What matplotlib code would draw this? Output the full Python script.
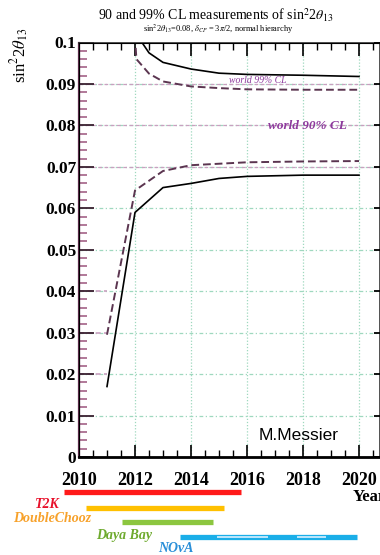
import matplotlib.pyplot as plt
from matplotlib.ticker import MultipleLocator, FuncFormatter

plt.rcParams['font.family'] = ['Liberation Serif', 'DejaVu Serif']
plt.rcParams['mathtext.fontset'] = 'stix'

# 99% CL band edges
yr_99_lo = [2011.0, 2012.0, 2013.0, 2014.0, 2015.0, 2016.0, 2018.0, 2020.0]
s2t_99_lo = [0.017, 0.059, 0.065, 0.066, 0.0672, 0.0677, 0.068, 0.068]
yr_99_hi = [2012.1, 2012.5, 2013.0, 2014.0, 2015.0, 2016.0, 2018.0, 2020.0]
s2t_99_hi = [0.1015, 0.0975, 0.0952, 0.0936, 0.0926, 0.0923, 0.0921, 0.0918]

# 90% CL band edges
yr_90_lo = [2011.0, 2012.0, 2013.0, 2014.0, 2016.0, 2018.0, 2020.0]
s2t_90_lo = [0.0295, 0.0643, 0.069, 0.0704, 0.0711, 0.0713, 0.0714]
yr_90_hi = [2012.0, 2012.05, 2012.5, 2013.0, 2014.0, 2015.0, 2016.0, 2018.0, 2020.0]
s2t_90_hi = [0.1015, 0.096, 0.0925, 0.0906, 0.0894, 0.089, 0.0887, 0.0886, 0.0886]

# experiment running periods
experiments = ['T2K', 'DoubleChooz', 'Daya Bay', 'NO\u03bdA']
exp_start = [2009.46, 2010.25, 2011.54, 2013.6]
exp_end = [2015.79, 2015.18, 2014.79, 2019.93]
exp_colors = ['#ff1a1a', '#ffc000', '#8cc63f', '#1aaee8']
exp_label_colors = ['#e8102a', '#f7a12a', '#6eaa2e', '#2a8fd8']
nova_gaps = [(2014.93, 2016.75), (2017.79, 2018.82)]


def ytick_fmt(v, pos):
    if abs(v) < 1e-9:
        return '0'
    if abs(v - 0.1) < 1e-9:
        return '0.1'
    return '%.2f' % v


fig = plt.figure(figsize=(3.8, 5.55), dpi=100)
ax = fig.add_axes([79 / 380, 1 - 457 / 555, 301 / 380, 414.5 / 555])
ax.set_xlim(2010, 2020.75)
ax.set_ylim(0, 0.1)

# grid
green = '#9fd8bf'
pink = '#c9a0c0'
for x in range(2012, 2021, 2):
    ax.axvline(x, color=green, lw=0.9, ls=(0, (1, 1.5)), zorder=1)
for i in range(1, 10):
    y = i / 100
    ax.axhline(y, color=green, lw=0.9, ls=(0, (3, 2, 1, 2)), zorder=1)
    if y >= 0.07:
        ax.axhline(y, color=pink, lw=0.9, ls=(0, (3, 2)), zorder=1)
    elif 0.02 <= y <= 0.04:
        ax.plot([2010, 2011], [y, y], color=pink, lw=1.2, ls=(0, (3, 2)), zorder=1)

ax.plot(yr_99_lo, s2t_99_lo, color='black', lw=1.2, zorder=3)
ax.plot(yr_99_hi, s2t_99_hi, color='black', lw=1.2, zorder=3)
ax.plot(yr_90_lo, s2t_90_lo, color='#5b3550', lw=1.4, ls=(0, (4, 2)), zorder=3)
ax.plot(yr_90_hi, s2t_90_hi, color='#5b3550', lw=1.4, ls=(0, (4, 2)), zorder=3)

ax.text(2016.4, 0.0909, 'world 99% CL', color='#8e3a9d', fontsize=7,
        style='italic', ha='center', va='center', zorder=4)
ax.text(2018.15, 0.0799, 'world 90% CL', color='#8e3a9d', fontsize=9.5,
        style='italic', weight='bold', ha='center', va='center', zorder=4)
ax.text(2016.4, 0.0053, 'M.Messier', family='Liberation Sans', fontsize=12.5,
        ha='left', va='center', zorder=4)

# axes frame and ticks
for side in ['top', 'right']:
    ax.spines[side].set_color('#333333')
    ax.spines[side].set_linewidth(1.2)
ax.spines['left'].set_color('#5a2a48')
ax.spines['left'].set_linewidth(1.6)
ax.spines['bottom'].set_color('black')
ax.spines['bottom'].set_linewidth(2)

ax.xaxis.set_major_locator(MultipleLocator(2))
ax.xaxis.set_minor_locator(MultipleLocator(0.5))
ax.yaxis.set_major_locator(MultipleLocator(0.01))
ax.yaxis.set_minor_locator(MultipleLocator(0.002))
ax.yaxis.set_major_formatter(FuncFormatter(ytick_fmt))
ax.tick_params(axis='x', which='major', direction='in', top=True, length=9,
               width=1.2, labelsize=13, pad=11)
ax.tick_params(axis='x', which='minor', direction='in', top=True, length=5, width=1)
ax.tick_params(axis='y', which='major', direction='in', length=11,
               width=1.3, color='#3a2030', labelsize=12.5, pad=2)
ax.tick_params(axis='y', which='minor', direction='in', length=6,
               width=1.4, color='#b07898')
for lbl in ax.get_xticklabels() + ax.get_yticklabels():
    lbl.set_fontweight('bold')

# short ticks on the right edge
rx = ax.twinx()
rx.set_ylim(ax.get_ylim())
rx.yaxis.set_major_locator(MultipleLocator(0.01))
rx.tick_params(axis='y', which='major', direction='in', length=4, width=1.3,
               labelright=False)
rx.spines['right'].set_visible(False)

fig.text(20 / 380, 1 - 55 / 555, r'sin$^2$2$\theta_{13}$', rotation=90,
         fontsize=12, ha='center', va='center')
fig.text(216 / 380, 1 - 15 / 555,
         r'90 and 99% CL measurements of sin$^2$2$\theta_{13}$',
         fontsize=10, ha='center', va='center')
fig.text(218 / 380, 1 - 29 / 555,
         r'sin$^2$2$\theta_{13}$=0.08, $\delta_{CP}$ = 3$\pi$/2, normal hierarchy',
         fontsize=6, ha='center', va='center')
fig.text(353 / 380, 1 - 497 / 555, 'Year', fontsize=12, weight='bold',
         ha='left', va='center')

# experiment timeline below the axis
bx = fig.add_axes([0, 0, 1, 77 / 555])
bx.set_xlim(2010 - 79 / 28, 2010 + 301 / 28)
bx.set_ylim(555, 478)
bx.axis('off')
rows = [492, 508, 522, 537]
label_x = [2009.3, 2010.45, 2012.6, 2014.1]
label_y = [505, 519, 535, 548]
for name, x0, x1, c, lc, r, lx, ly in zip(experiments, exp_start, exp_end, exp_colors,
                                          exp_label_colors, rows, label_x, label_y):
    bx.hlines(r, x0, x1, color=c, lw=3.8)
    bx.text(lx, ly, name, color=lc, fontsize=10, style='italic', weight='bold',
            ha='right', va='center')
for g0, g1 in nova_gaps:
    bx.hlines(rows[3], g0, g1, color='#d8f0ff', lw=1.2)

fig.savefig('out.png', dpi=100)
